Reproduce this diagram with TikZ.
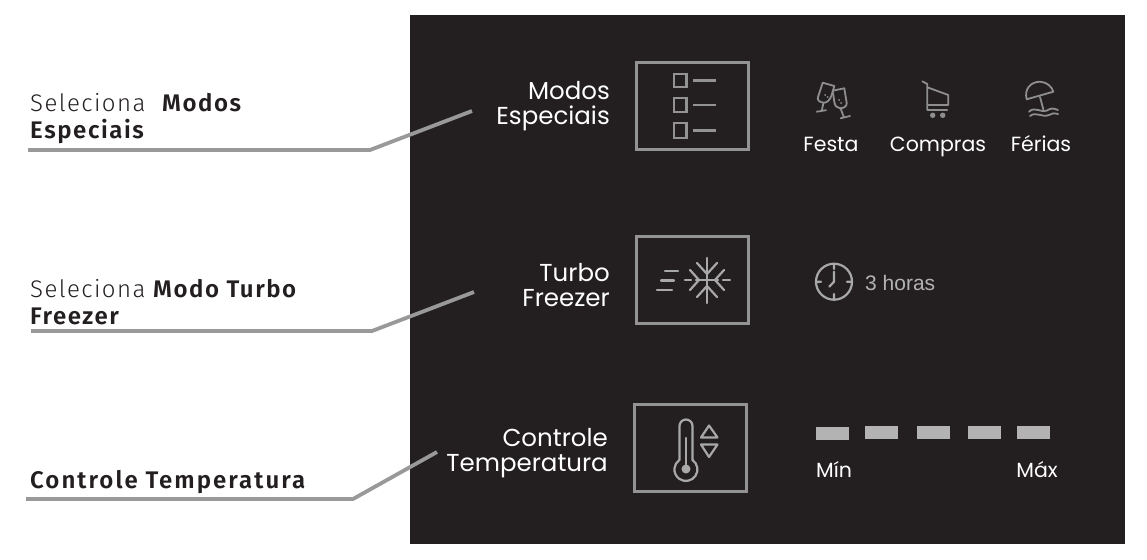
\documentclass[tikz,border=0pt]{standalone}
\usepackage{fontspec}
\setmainfont{Poppins}
\newfontfamily\leftlight[LetterSpace=6]{Fira Sans Light}
\newfontfamily\leftbold[LetterSpace=6.5]{Fira Sans SemiBold}
\newfontfamily\leftwide[LetterSpace=8.5]{Fira Sans SemiBold}
\newfontfamily\hoursfont{Liberation Sans}
\definecolor{panel}{HTML}{231F20}
\definecolor{leader}{HTML}{999999}
\definecolor{frameg}{HTML}{939393}
\definecolor{icong}{HTML}{8E8E8E}
\definecolor{iconl}{HTML}{A8A8A8}
\definecolor{barg}{HTML}{B3B3B3}
\definecolor{lefttext}{HTML}{231F20}
\tikzset{
  leaderline/.style={draw=leader,line width=3.8pt,line join=round},
  btn/.style={draw=frameg,line width=2.5pt,minimum width=112pt,minimum height=87pt,inner sep=0pt,anchor=center},
  lbl/.style={text=lefttext,anchor=base west,inner sep=0pt,font=\fontsize{24}{24}\selectfont},
  title/.style={text=white,anchor=east,align=right,inner sep=0pt,font=\fontsize{24.5}{24.5}\selectfont},
  small/.style={text=white,inner sep=0pt,anchor=base,font=\fontsize{20.5}{20.5}\selectfont},
  ic/.style={draw=icong,line width=1.8pt,line cap=round,line join=round,fill=none},
  icb/.style={draw=iconl,line width=2.2pt,line cap=round,line join=round,fill=none},
  bar/.style={fill=barg,draw=none,minimum width=33pt,minimum height=13pt,inner sep=0pt}
}
\begin{document}
\begin{tikzpicture}[x=1pt,y=-1pt]
\useasboundingbox (0,0) rectangle (1147,559);
\fill[panel] (410,15) rectangle (1125,544);
% left labels
\node[lbl] (l1a) at (30,111) {\leftlight Seleciona};
\node[lbl] (l1b) at (162,111) {\leftbold Modos};
\node[lbl] (l1c) at (30,138) {\leftbold Especiais};
\node[lbl] (l2a) at (30,297) {\leftlight Seleciona};
\node[lbl] (l2b) at (153,297) {\leftbold Modo Turbo};
\node[lbl] (l2c) at (30,324) {\leftbold Freezer};
\node[lbl] (l3a) at (30,488) {\leftwide Controle Temperatura};
% leaders
\coordinate (a1) at (28,150); \coordinate (a2) at (370,150); \coordinate (a3) at (472,111);
\coordinate (b1) at (31,331); \coordinate (b2) at (372,331); \coordinate (b3) at (474,292);
\coordinate (c1) at (26,499); \coordinate (c2) at (353,499); \coordinate (c3) at (437,452);
\draw[leaderline] (a1) -- (a2) -- (a3);
\draw[leaderline] (b1) -- (b2) -- (b3);
\draw[leaderline] (c1) -- (c2) -- (c3);
% titles
\node[title] (t1) at (610,106) {Modos\\Especiais};
\node[title] (t2) at (610,285) {Turbo\\Freezer};
\node[title] (t3) at (608,453) {Controle\\Temperatura};
% buttons
\node[btn] (k1) at (692.5,106) {};
\node[btn] (k2) at (692.5,280) {};
\node[btn] (k3) at (690.5,448) {};
% list icon
\begin{scope}[line width=2.4pt]
\draw[frameg] (674,74) rectangle (686.5,87);
\draw[frameg] (674,98) rectangle (686.5,112);
\draw[frameg] (674,123) rectangle (686.5,138);
\draw[frameg] (693,80.5) -- (716,80.5);
\draw[frameg] (693,105) -- (716,105);
\draw[frameg] (693,130.5) -- (716,130.5);
\end{scope}
% snowflake icon
\draw[icb] (665,271) -- (678,271) (661,280.5) -- (674,280.5) (657,290) -- (672,290);
\draw[icb] (685,280) -- (691,280) (723,280) -- (730,280) (707,258) -- (707,303) (696,280) -- (718,280);
\draw[icb] (697,263) -- (707,274) -- (717,263) (697,297) -- (707,286) -- (717,297);
\draw[icb] (690,270) -- (699,280) -- (690,290) (724,270) -- (715,280) -- (724,290);
% thermometer
\draw[icb] (679.5,460) -- (679.5,426) arc[start angle=180,end angle=360,radius=6.5] -- (692.5,460);
\draw[icb] (692.5,460) arc[start angle=-55,end angle=235,radius=11.5];
\draw[icb] (686,438) -- (686,465);
\fill[iconl] (686,469) circle (4.5);
\draw[icb] (701,437.5) -- (709,425.5) -- (717.5,437.5) -- cycle;
\draw[icb] (701,444.5) -- (717.5,444.5) -- (709,457) -- cycle;
% party glasses
\draw[ic] (822.7,82.7) -- (834.3,86) -- (831.7,95) .. controls (830,100) and (827,103) .. (823.5,102.7) .. controls (819,102) and (817,100) .. (818,97) -- cycle;
\draw[ic] (823.5,102.7) -- (821.7,110.7) (816.7,111.7) -- (826,110.2);
\draw[ic] (832.7,90.7) -- (844.3,88.3) -- (846.7,103) .. controls (847,106) and (844,108.3) .. (840,108.3) .. controls (837,108) and (835,106) .. (834.3,102) -- cycle;
\draw[ic] (840.5,108.3) -- (843.7,116.7) (840.7,118.3) -- (850,116);
\fill[icong] (825,95) circle (1) (827.5,97) circle (1) (839,100) circle (1) (841,103) circle (1);
% cart
\draw[ic] (922.3,81.3) -- (927.3,84) -- (927.3,110) -- (947.3,110) (927.3,87.3) -- (948.3,95) -- (948.3,105) -- (927.3,105);
\fill[icong] (932.7,115.3) circle (2.7) (942.7,115.3) circle (2.7);
% beach
\draw[ic] (1026.7,99.3) .. controls (1024,90) and (1030,81.7) .. (1040,81.7) .. controls (1047,82) and (1052,87) .. (1053.3,91.7) -- cycle;
\draw[ic] (1040,97) -- (1043.3,109.3);
\draw[ic] (1029,111.7) .. controls (1035,106) and (1040,113) .. (1047,110.5) .. controls (1051,108) and (1053,108) .. (1058,110);
\draw[ic] (1030,116) .. controls (1036,111) and (1042,118) .. (1049,115) .. controls (1052,113) and (1054,113) .. (1058,114);
% mode labels
\node[small] (f1) at (831,151) {Festa};
\node[small] (f2) at (938,151) {Compras};
\node[small] (f3) at (1041,151) {Férias};
% clock
\draw[draw=iconl,line width=2.2pt] (834,281.7) circle (18);
\draw[icb] (834,264) -- (834,269) (834,294) -- (834,300) (816,281.7) -- (821,281.7) (847,281.7) -- (852,281.7) (834,271.7) -- (834,281.7) -- (829.3,286.7);
\node[text=barg,anchor=west,inner sep=0pt,font=\hoursfont\fontsize{21}{21}\selectfont] (h) at (865,283) {3 horas};
% bars
\node[bar] (b-1) at (832.5,433) {};
\node[bar] (b-2) at (881.5,432) {};
\node[bar] (b-3) at (933.5,432) {};
\node[bar] (b-4) at (984.5,432) {};
\node[bar] (b-5) at (1033.5,432) {};
\node[small,anchor=base west] (mn) at (816,477) {Mín};
\node[small,anchor=base east] (mx) at (1058,477) {Máx};
\end{tikzpicture}
\end{document}
